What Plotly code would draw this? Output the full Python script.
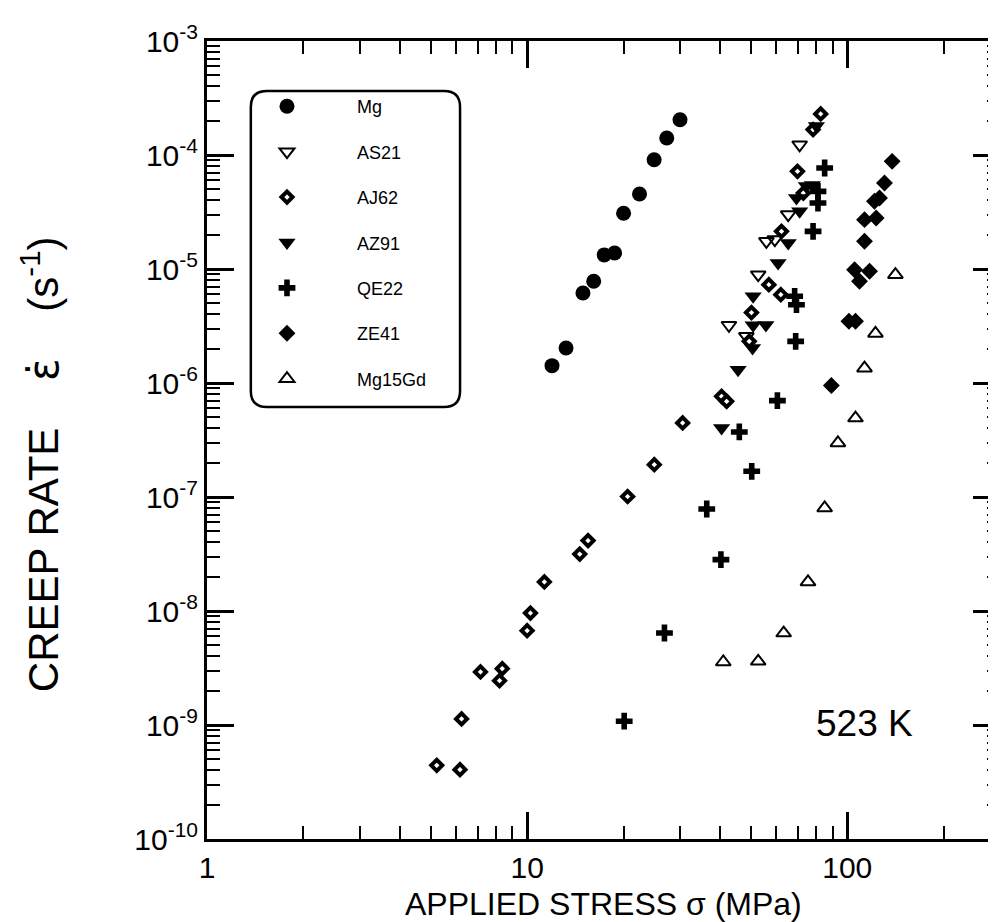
import math
import plotly.graph_objects as go

# creep data at 523 K (stress in MPa, rate in 1/s)
mg_stress = [11.96, 13.23, 14.94, 16.14, 17.41, 18.76, 20.01, 22.44, 24.93, 27.30, 30.03]
mg_rate = [1.42e-6, 2.03e-6, 6.16e-6, 7.80e-6, 1.33e-5, 1.38e-5, 3.08e-5, 4.55e-5, 9.09e-5, 1.41e-4, 2.04e-4]

as21_stress = [71.0, 65.4, 55.9, 59.4, 52.7, 42.7, 48.4]
as21_rate = [1.23e-4, 3.0e-5, 1.75e-5, 1.81e-5, 8.91e-6, 3.21e-6, 2.57e-6]

aj62_stress = [82.6, 78.2, 69.9, 72.9, 62.3, 56.9, 62.0, 50.2, 49.4, 40.5, 42.0, 30.6, 24.96,
               20.6, 15.5, 14.6, 11.32, 10.24, 10.0, 8.36, 7.15, 8.20, 6.24, 5.22, 6.17]
aj62_rate = [2.29e-4, 1.67e-4, 7.19e-5, 4.64e-5, 2.14e-5, 7.28e-6, 5.95e-6, 4.15e-6, 2.32e-6,
             7.64e-7, 6.91e-7, 4.46e-7, 1.92e-7, 1.01e-7, 4.15e-8, 3.16e-8, 1.80e-8, 9.60e-9,
             6.72e-9, 3.12e-9, 2.92e-9, 2.45e-9, 1.13e-9, 4.43e-10, 4.06e-10]

az91_stress = [74.5, 77.8, 69.4, 71.0, 65.4, 60.8, 50.8, 50.8, 55.7, 50.6, 45.6, 40.5, 80.1]
az91_rate = [5.35e-5, 5.46e-5, 4.20e-5, 3.21e-5, 1.69e-5, 1.13e-5, 5.76e-6, 3.21e-6, 3.23e-6,
             2.03e-6, 1.31e-6, 4.03e-7, 1.80e-4]

qe22_stress = [85.0, 81.0, 81.0, 78.2, 68.5, 69.4, 69.0, 60.5, 46.0, 50.3, 36.4, 40.3, 26.85, 20.1]
qe22_rate = [7.69e-5, 4.80e-5, 3.79e-5, 2.14e-5, 5.76e-6, 4.86e-6, 2.32e-6, 7.00e-7, 3.72e-7,
             1.68e-7, 7.85e-8, 2.82e-8, 6.41e-9, 1.08e-9]

ze41_stress = [138.1, 130.7, 126.1, 121.6, 113.2, 123.1, 113.2, 105.4, 117.4, 109.2, 101.2, 106.1, 89.2]
ze41_rate = [8.80e-5, 5.68e-5, 4.20e-5, 3.93e-5, 2.71e-5, 2.80e-5, 1.75e-5, 9.86e-6, 9.55e-6,
             7.80e-6, 3.48e-6, 3.48e-6, 9.51e-7]

gd_stress = [141.4, 122.5, 113.2, 106.1, 93.5, 85.0, 75.4, 63.3, 52.7, 41.0]
gd_rate = [8.91e-6, 2.72e-6, 1.35e-6, 4.93e-7, 2.98e-7, 8.01e-8, 1.80e-8, 6.41e-9, 3.62e-9, 3.57e-9]

series = [
    ("Mg", mg_stress, mg_rate, dict(symbol="circle", size=15, color="black", line=dict(width=0))),
    ("AS21", as21_stress, as21_rate, dict(symbol="triangle-down-open", size=13, color="black", line=dict(width=2))),
    ("AJ62", aj62_stress, aj62_rate, dict(symbol="diamond", size=8.5, color="white", line=dict(width=4, color="black"))),
    ("AZ91", az91_stress, az91_rate, dict(symbol="triangle-down", size=15, color="black", line=dict(width=0))),
    ("QE22", qe22_stress, qe22_rate, dict(symbol="cross", size=14, color="black", line=dict(width=0))),
    ("ZE41", ze41_stress, ze41_rate, dict(symbol="diamond", size=13, color="black", line=dict(width=0))),
    ("Mg15Gd", gd_stress, gd_rate, dict(symbol="triangle-up-open", size=13, color="black", line=dict(width=2))),
]

X_RANGE = [0, math.log10(300)]
Y_RANGE = [-10, -3]
x_major = [1, 10, 100]
y_major = [10.0 ** k for k in range(-10, -2)]
y_text = [f"10<sup>-{abs(k)}</sup>" for k in range(-10, -2)]

FONT = "Liberation Sans, Arial, sans-serif"
NB = "\u00a0"
PLOT_W, PLOT_H = 796, 798

fig = go.Figure()
for i, (name, xs, ys, marker) in enumerate(series):
    fig.add_trace(go.Scatter(x=xs, y=ys, mode="markers", name=name, marker=marker,
                             legendgroup=f"g{i}"))

axis_common = dict(type="log", showgrid=False, zeroline=False, ticks="inside", ticklen=27,
                   tickwidth=2.5, tickcolor="black", showline=True, linewidth=3, linecolor="black",
                   mirror="ticks", tickmode="array",
                   minor=dict(ticks="inside", ticklen=13, tickwidth=2, tickcolor="black",
                              dtick="D1", showgrid=False))

fig.update_xaxes(range=X_RANGE, tickvals=x_major, ticktext=[str(v) for v in x_major],
                 tickfont=dict(family=FONT, size=30, color="black"), **axis_common)
fig.update_yaxes(range=Y_RANGE, tickvals=y_major, ticktext=y_text,
                 tickfont=dict(family=FONT, size=30, color="black"), **axis_common)


def rounded_box(x0, y0, x1, y1, r):
    # pixel box -> paper path with rounded corners
    px = lambda v: (v - 199) / PLOT_W
    py = lambda v: (831 - v) / PLOT_H
    return (f"M {px(x0 + r)},{py(y0)} L {px(x1 - r)},{py(y0)} Q {px(x1)},{py(y0)} {px(x1)},{py(y0 + r)} "
            f"L {px(x1)},{py(y1 - r)} Q {px(x1)},{py(y1)} {px(x1 - r)},{py(y1)} "
            f"L {px(x0 + r)},{py(y1)} Q {px(x0)},{py(y1)} {px(x0)},{py(y1 - r)} "
            f"L {px(x0)},{py(y0 + r)} Q {px(x0)},{py(y0)} {px(x0 + r)},{py(y0)} Z")


fig.add_shape(type="path", xref="paper", yref="paper", path=rounded_box(243, 83, 453, 399, 16),
              line=dict(color="black", width=2.5), fillcolor="white", layer="below")

fig.add_annotation(x=math.log10(113), y=math.log10(1.04e-9), xref="x", yref="y", text="523 K",
                   showarrow=False, font=dict(family=FONT, size=37, color="black"))
fig.add_annotation(x=0.5, y=-0.106, xref="paper", yref="paper", showarrow=False,
                   text="APPLIED STRESS σ (MPa)",
                   font=dict(family=FONT, size=32, color="black"))
gap = NB * 4
fig.add_annotation(x=-0.2462, y=0.47, xref="paper", yref="paper", xanchor="left", yanchor="middle",
                   showarrow=False, textangle=-90,
                   text=f"CREEP RATE{gap}<span style='font-family:DejaVu Sans'>ε\u0307</span>{gap}(s<sup>-1</sup>)",
                   font=dict(family=FONT, size=42, color="black"))

fig.update_layout(
    width=996, height=922,
    margin=dict(l=199, r=1, t=33, b=91),
    plot_bgcolor="white", paper_bgcolor="white",
    showlegend=True,
    legend=dict(x=0.0126, y=0.941, xanchor="left", yanchor="top", bgcolor="rgba(0,0,0,0)",
                borderwidth=0, font=dict(family=FONT, size=18, color="black"),
                tracegroupgap=19, itemwidth=130, itemsizing="trace"),
)

fig.write_html("out.html")
